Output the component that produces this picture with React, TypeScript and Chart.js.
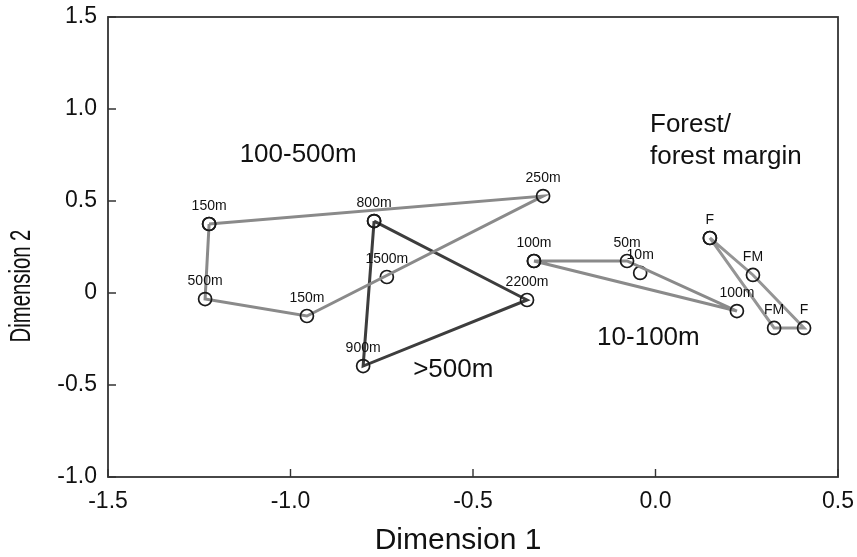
import { useEffect, useRef } from "react";
import { Chart, registerables } from "chart.js";

Chart.register(...registerables);

// Axis ticks
const xTickValues = [-1.5, -1.0, -0.5, 0.0, 0.5];
const xTickLabels = ["-1.5", "-1.0", "-0.5", "0.0", "0.5"];
const yTickValues = [-1.0, -0.5, 0, 0.5, 1.0, 1.5];
const yTickLabels = ["-1.0", "-0.5", "0", "0.5", "1.0", "1.5"];

// 100-500 m sites (polygon order)
const midNames = ["150m", "250m", "150m", "500m"];
const midX = [-1.223, -0.308, -0.955, -1.234];
const midY = [0.375, 0.527, -0.125, -0.033];

// >500 m sites (triangle)
const highNames = ["800m", "2200m", "900m"];
const highX = [-0.771, -0.352, -0.801];
const highY = [0.391, -0.038, -0.397];

// 1500 m site, not joined
const soloHighNames = ["1500m"];
const soloHighX = [-0.736];
const soloHighY = [0.087];

// 10-100 m sites (triangle)
const lowNames = ["100m", "50m", "100m"];
const lowX = [-0.333, -0.078, 0.223];
const lowY = [0.174, 0.174, -0.098];

// 10 m site, not joined
const soloLowNames = ["10m"];
const soloLowX = [-0.042];
const soloLowY = [0.109];

// Forest (F) and forest margin (FM) sites
const forestNames = ["F", "FM", "F", "FM"];
const forestX = [0.149, 0.267, 0.407, 0.325];
const forestY = [0.299, 0.098, -0.19, -0.19];

// Group captions, placed in data units
const groupCaptions = [
  { text: "100-500m", x: -0.979, y: 0.75, align: "center" },
  { text: ">500m", x: -0.664, y: -0.418, align: "left" },
  { text: "10-100m", x: -0.16, y: -0.245, align: "left" },
  { text: "Forest/", x: -0.015, y: 0.913, align: "left" },
  { text: "forest margin", x: -0.015, y: 0.741, align: "left" },
];

const FONT = "'Liberation Sans', Arial, Helvetica, sans-serif";

function toPoints(xs: number[], ys: number[], closed: boolean) {
  const pts = xs.map((x, i) => ({ x, y: ys[i] }));
  if (closed) pts.push({ ...pts[0] });
  return pts;
}

function series(
  names: string[],
  xs: number[],
  ys: number[],
  closed: boolean,
  lineColor: string
) {
  return {
    label: names.join(","),
    pointNames: names,
    data: toPoints(xs, ys, closed),
    showLine: closed,
    borderColor: lineColor,
    borderWidth: 3,
    pointRadius: 6.5,
    pointHoverRadius: 6.5,
    pointBorderWidth: 1.7,
    pointBorderColor: "#1a1a1a",
    pointBackgroundColor: "rgba(0,0,0,0)",
    tension: 0,
  };
}

const decorations = {
  id: "decorations",
  afterDraw(chart: any) {
    const { ctx, chartArea, scales } = chart;
    const { left, right, top, bottom } = chartArea;
    const xs = scales.x;
    const ys = scales.y;
    ctx.save();

    // frame
    ctx.strokeStyle = "#333";
    ctx.lineWidth = 1.8;
    ctx.strokeRect(left, top, right - left, bottom - top);

    // inward tick marks
    ctx.lineWidth = 1.4;
    ctx.beginPath();
    xTickValues.forEach((v) => {
      const px = xs.getPixelForValue(v);
      ctx.moveTo(px, bottom);
      ctx.lineTo(px, bottom - 8);
    });
    yTickValues.forEach((v) => {
      const py = ys.getPixelForValue(v);
      ctx.moveTo(left, py);
      ctx.lineTo(left + 8, py);
    });
    ctx.stroke();

    // site labels above each circle
    ctx.fillStyle = "#111";
    ctx.font = `14px ${FONT}`;
    ctx.textAlign = "center";
    ctx.textBaseline = "middle";
    chart.data.datasets.forEach((ds: any) => {
      const names: string[] = ds.pointNames || [];
      names.forEach((name, i) => {
        const p = ds.data[i];
        ctx.fillText(name, xs.getPixelForValue(p.x), ys.getPixelForValue(p.y) - 18);
      });
    });

    // group captions
    ctx.font = `26px ${FONT}`;
    groupCaptions.forEach((c) => {
      ctx.textAlign = c.align;
      ctx.fillText(c.text, xs.getPixelForValue(c.x), ys.getPixelForValue(c.y));
    });

    // axis titles
    ctx.textAlign = "center";
    ctx.font = `30px ${FONT}`;
    ctx.fillText("Dimension 1", 458, 541);
    ctx.translate(22, 286);
    ctx.rotate(-Math.PI / 2);
    ctx.scale(0.7, 1);
    ctx.font = `29px ${FONT}`;
    ctx.fillText("Dimension 2", 0, 0);
    ctx.restore();
  },
};

export default function App() {
  const ref = useRef<HTMLCanvasElement>(null);

  useEffect(() => {
    document.body.style.margin = "0";
    const chart = new Chart(ref.current!, {
      type: "scatter",
      data: {
        datasets: [
          series(midNames, midX, midY, true, "#8a8a8a"),
          series(lowNames, lowX, lowY, true, "#8a8a8a"),
          series(forestNames, forestX, forestY, true, "#959595"),
          series(highNames, highX, highY, true, "#3d3d3d"),
          series(soloHighNames, soloHighX, soloHighY, false, "#3d3d3d"),
          series(soloLowNames, soloLowX, soloLowY, false, "#8a8a8a"),
        ] as any,
      },
      options: {
        responsive: false,
        animation: false,
        devicePixelRatio: 1,
        layout: { padding: { top: 17, right: 19, left: 0, bottom: 0 } },
        plugins: {
          legend: { display: false },
          tooltip: { enabled: false },
        },
        scales: {
          x: {
            type: "linear",
            min: -1.5,
            max: 0.5,
            grid: { display: false, drawTicks: false },
            border: { display: false },
            afterBuildTicks: (s: any) => {
              s.ticks = xTickValues.map((v) => ({ value: v }));
            },
            afterFit: (s: any) => {
              s.height = 80;
              s.paddingLeft = 0;
              s.paddingRight = 0;
            },
            ticks: {
              padding: 11,
              color: "#111",
              font: { family: FONT, size: 23 },
              maxRotation: 0,
              callback: (v: any) => xTickLabels[xTickValues.indexOf(Number(v))] ?? "",
            },
          },
          y: {
            type: "linear",
            min: -1.0,
            max: 1.5,
            grid: { display: false, drawTicks: false },
            border: { display: false },
            afterBuildTicks: (s: any) => {
              s.ticks = yTickValues.map((v) => ({ value: v }));
            },
            afterFit: (s: any) => {
              s.width = 108;
              s.paddingTop = 0;
              s.paddingBottom = 0;
            },
            ticks: {
              padding: 11,
              color: "#111",
              font: { family: FONT, size: 23 },
              callback: (v: any) => yTickLabels[yTickValues.indexOf(Number(v))] ?? "",
            },
          },
        },
      },
      plugins: [decorations],
    });
    return () => chart.destroy();
  }, []);

  return (
    <div style={{ width: 857, height: 557 }}>
      <canvas ref={ref} width={857} height={557} style={{ display: "block" }} />
    </div>
  );
}
